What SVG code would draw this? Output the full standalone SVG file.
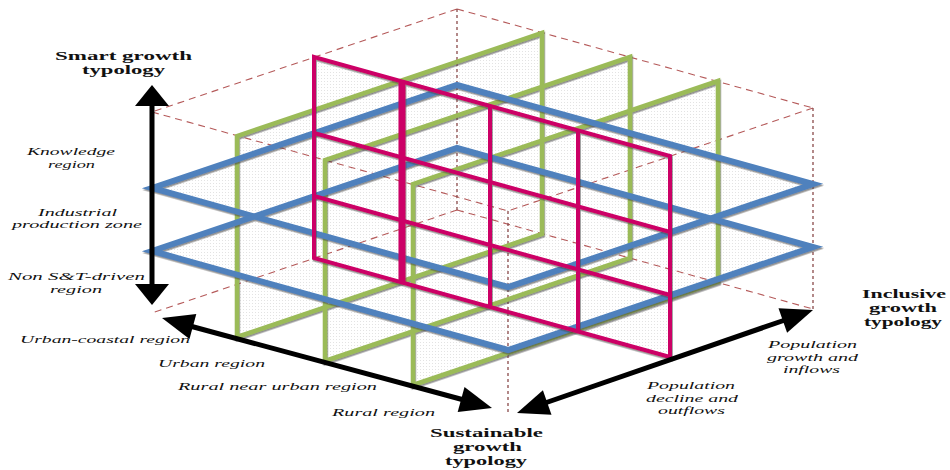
<svg xmlns="http://www.w3.org/2000/svg" width="950" height="470" viewBox="0 0 950 470">
<style>
.cube{fill:none;stroke:#b55a5a;stroke-width:1.1;stroke-dasharray:7 5}
.vert{fill:none;stroke:#8a4a4a;stroke-width:1.3;stroke-dasharray:3 3}
.plane{fill:url(#dots);stroke:none}
.blue{fill:none;stroke:#4f81bd;stroke-width:6;stroke-linejoin:miter}
.green{fill:none;stroke:#9bbb59;stroke-width:4.5}
.mag{fill:none;stroke:#cc0066;stroke-width:4}
.arr{stroke:#000;stroke-width:5;fill:none}
.head{fill:#000;stroke:none}
.b{font-family:"Liberation Serif","Times New Roman",serif;font-weight:bold;font-size:12.5px;fill:#111}
.i{font-family:"Liberation Serif","Times New Roman",serif;font-style:italic;font-size:11px;fill:#111}
</style>
<defs>
<pattern id="dots" width="3" height="3" patternUnits="userSpaceOnUse">
<rect x="0" y="0" width="1" height="1" fill="#e3e3e3"/>
</pattern>
<filter id="sh" x="-5%" y="-5%" width="110%" height="110%">
<feDropShadow dx="0.8" dy="1.6" stdDeviation="0.4" flood-color="#444" flood-opacity="0.6"/>
</filter>
</defs>
<rect width="950" height="470" fill="#fff"/>

<g id="plane-fills">
<polygon class="plane" points="152,188 457,85 813,184 508,287"/>
<polygon class="plane" points="152,251 457,148 813,247 508,350"/>
<polygon class="plane" points="542,33 237,136 237,337 542,234"/>
<polygon class="plane" points="630,57 325,160 325,361 630,258"/>
<polygon class="plane" points="718,81 413,184 413,385 718,282"/>
<polygon class="plane" points="314,57 670,156 670,357 314,258"/>
</g>

<g id="cube-outline">
<path class="cube" d="M457,9 L152,112 M457,9 L813,108 M152,112 L508,211 M813,108 L508,211 M457,210 L152,313 M457,210 L813,309"/>
<path class="vert" d="M457,9 V210 M508,211 V412 M813,108 V309"/>
</g>

<g id="green-planes" filter="url(#sh)">
<polygon class="green" points="542,33 237,136 237,337 542,234"/>
<polygon class="green" points="630,57 325,160 325,361 630,258"/>
<polygon class="green" points="718,81 413,184 413,385 718,282"/>
</g>

<g id="blue-planes" filter="url(#sh)">
<polygon class="blue" points="152,188 457,85 813,184 508,287"/>
<polygon class="blue" points="152,251 457,148 813,247 508,350"/>
</g>

<g id="magenta-plane" filter="url(#sh)">
<polygon class="mag" points="314,57 670,156 670,357 314,258"/>
<path class="mag" d="M314,133 L670,232 M314,196 L670,295 M490,106 V307 M578,130 V331"/>
<path class="mag" style="stroke-width:7" d="M402,82 V283"/>
</g>

<g id="axes">
<line class="arr" x1="152" y1="100" x2="152" y2="290"/>
<polygon class="head" points="152,85 135,106 169,106"/>
<polygon class="head" points="152,305 135,284 169,284"/>
<line class="arr" x1="190" y1="326" x2="464" y2="400"/>
<polygon class="head" points="162,318 189.5,338.9 196.3,313.9"/>
<polygon class="head" points="492,408 457.7,412.1 464.5,387.1"/>
<line class="arr" x1="545" y1="403" x2="785" y2="320"/>
<polygon class="head" points="517,413 551.5,414.8 542.9,390.2"/>
<polygon class="head" points="813,310 787.1,332.8 778.5,308.2"/>
</g>

<g id="labels">
<text class="b" x="55" y="60" textLength="137" lengthAdjust="spacingAndGlyphs">Smart growth</text>
<text class="b" x="82" y="74" textLength="83" lengthAdjust="spacingAndGlyphs">typology</text>
<text class="b" x="430" y="437" textLength="113" lengthAdjust="spacingAndGlyphs">Sustainable</text>
<text class="b" x="453" y="451" textLength="69" lengthAdjust="spacingAndGlyphs">growth</text>
<text class="b" x="445" y="465" textLength="82" lengthAdjust="spacingAndGlyphs">typology</text>
<text class="b" x="862" y="298" textLength="84" lengthAdjust="spacingAndGlyphs">Inclusive</text>
<text class="b" x="869" y="312" textLength="68" lengthAdjust="spacingAndGlyphs">growth</text>
<text class="b" x="864" y="326" textLength="78" lengthAdjust="spacingAndGlyphs">typology</text>

<text class="i" x="27" y="155" textLength="88" lengthAdjust="spacingAndGlyphs">Knowledge</text>
<text class="i" x="48" y="167.5" textLength="47" lengthAdjust="spacingAndGlyphs">region</text>
<text class="i" x="38" y="215.5" textLength="79" lengthAdjust="spacingAndGlyphs">Industrial</text>
<text class="i" x="12" y="228" textLength="130" lengthAdjust="spacingAndGlyphs">production zone</text>
<text class="i" x="8" y="280" textLength="137" lengthAdjust="spacingAndGlyphs">Non S&amp;T-driven</text>
<text class="i" x="50" y="293" textLength="52" lengthAdjust="spacingAndGlyphs">region</text>

<text class="i" x="20" y="343" textLength="170" lengthAdjust="spacingAndGlyphs">Urban-coastal region</text>
<text class="i" x="158" y="367" textLength="107" lengthAdjust="spacingAndGlyphs">Urban region</text>
<text class="i" x="178" y="390" textLength="199" lengthAdjust="spacingAndGlyphs">Rural near urban region</text>
<text class="i" x="332" y="416" textLength="103" lengthAdjust="spacingAndGlyphs">Rural region</text>

<text class="i" x="647" y="389" textLength="88" lengthAdjust="spacingAndGlyphs">Population</text>
<text class="i" x="646" y="401.5" textLength="92" lengthAdjust="spacingAndGlyphs">decline and</text>
<text class="i" x="658" y="414" textLength="67" lengthAdjust="spacingAndGlyphs">outflows</text>
<text class="i" x="768" y="348" textLength="89" lengthAdjust="spacingAndGlyphs">Population</text>
<text class="i" x="767" y="360.5" textLength="91" lengthAdjust="spacingAndGlyphs">growth and</text>
<text class="i" x="783" y="373" textLength="57" lengthAdjust="spacingAndGlyphs">inflows</text>
</g>
</svg>
